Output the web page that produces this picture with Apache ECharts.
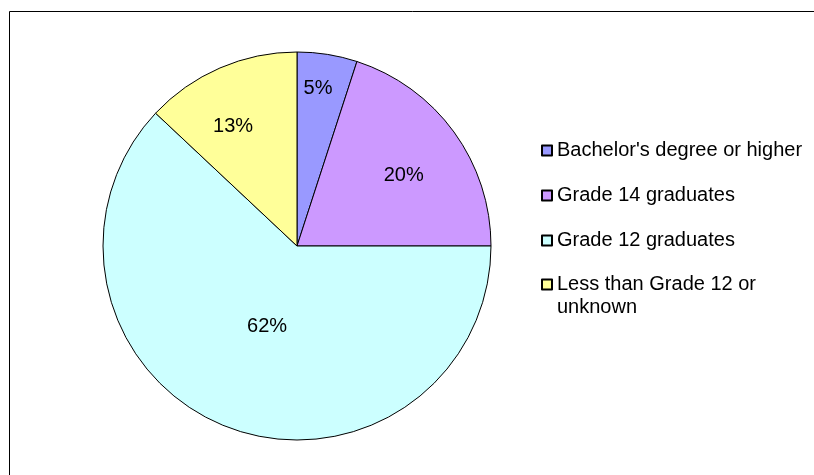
<!DOCTYPE html>
<html>
<head>
<meta charset="utf-8">
<title>Education pie</title>
<script src="https://cdn.jsdelivr.net/npm/echarts@6/dist/echarts.min.js"></script>
<style>
  html, body { margin: 0; padding: 0; background: #fff; }
  #chart { width: 814px; height: 475px; }
</style>
</head>
<body>
<div id="chart"></div>
<script>
// data
const categories = [
  "Bachelor's degree or higher",
  "Grade 14 graduates",
  "Grade 12 graduates",
  "Less than Grade 12 or unknown"
];
const shares = [5, 20, 62, 13];

const colors = ["#9999FF", "#CC99FF", "#CCFFFF", "#FFFF99"];

// where excel put the percentage labels (angle from top, share of radius)
const labelAngle = [7.6, 56.4, 200.3, 331.9];
const labelRadius = [0.82, 0.66, 0.445, 0.70];

const cx = 297;
const cy = 246;
const R = 194;

const legendText = {
  fontSize: 20,
  color: "#000",
  lineHeight: 23
};

const myChart = echarts.init(document.getElementById("chart"));

myChart.setOption({
  animation: false,
  textStyle: { fontFamily: "Liberation Sans, Arial, sans-serif" },
  graphic: [
    {
      // outer chart frame, cut at the right and bottom
      type: "rect",
      shape: { x: 9.5, y: 11.5, width: 900, height: 600 },
      style: { fill: "none", stroke: "#000", lineWidth: 1 },
      silent: true
    }
  ],
  legend: [
    {
      orient: "vertical",
      left: 536,
      top: 134,
      itemWidth: 10,
      itemHeight: 10,
      itemGap: 22,
      icon: "rect",
      selectedMode: false,
      textStyle: legendText,
      data: categories.slice(0, 3)
    },
    {
      // the wrapped last item: blank first line keeps the box on the first text line
      orient: "vertical",
      left: 536,
      top: 245,
      itemWidth: 10,
      itemHeight: 10,
      icon: "rect",
      selectedMode: false,
      textStyle: legendText,
      data: categories.slice(3),
      formatter: () => "\nLess than Grade 12 or\nunknown"
    }
  ],
  series: [
    {
      type: "pie",
      center: [cx, cy],
      radius: R,
      startAngle: 90,
      clockwise: true,
      silent: true,
      label: {
        show: true,
        position: "inside",
        formatter: "{c}%",
        fontSize: 20,
        color: "#000"
      },
      labelLine: { show: false },
      labelLayout: (params) => {
        const i = params.dataIndex;
        const a = (labelAngle[i] * Math.PI) / 180;
        const r = R * labelRadius[i];
        return {
          x: cx + r * Math.sin(a),
          y: cy - r * Math.cos(a),
          align: "center",
          verticalAlign: "middle"
        };
      },
      itemStyle: {
        borderColor: "#000",
        borderWidth: 1
      },
      data: categories.map((name, i) => ({
        name: name,
        value: shares[i],
        itemStyle: { color: colors[i] }
      }))
    }
  ]
});
</script>
</body>
</html>
